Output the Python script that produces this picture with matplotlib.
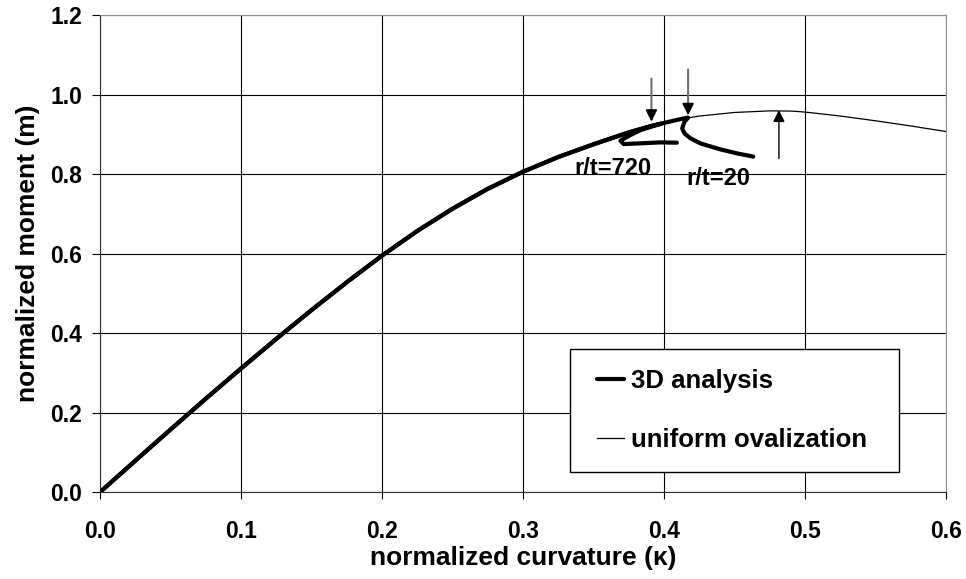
import numpy as np
import matplotlib.pyplot as plt
from matplotlib.legend_handler import HandlerLine2D

plt.rcParams['font.family'] = ['Liberation Sans', 'DejaVu Sans']
plt.rcParams['font.weight'] = 'bold'

# pre-buckling part, shared by all curves
kappa_pre = [0.0, 0.025, 0.05, 0.075, 0.1, 0.125, 0.15, 0.175, 0.2, 0.225, 0.25,
             0.275, 0.3, 0.325, 0.35, 0.375, 0.391, 0.398]
m_pre = [0.0, 0.079, 0.1575, 0.235, 0.311, 0.3855, 0.458, 0.528, 0.595, 0.657, 0.713,
         0.763, 0.806, 0.843, 0.875, 0.905, 0.921, 0.927]

# uniform ovalization (thin line) continues past the limit moment
kappa_uo = kappa_pre + [0.41, 0.425, 0.45, 0.475, 0.49, 0.5, 0.525, 0.55, 0.575, 0.6]
m_uo = m_pre + [0.937, 0.946, 0.955, 0.959, 0.9585, 0.956, 0.946, 0.934, 0.921, 0.907]

# 3D analysis, r/t = 20
kappa_20 = kappa_pre + [0.41, 0.417, 0.4145, 0.4128, 0.4145, 0.4187, 0.4258, 0.44, 0.4518, 0.4632]
m_20 = m_pre + [0.937, 0.942, 0.932, 0.915, 0.902, 0.890, 0.877, 0.862, 0.852, 0.844]

# 3D analysis, r/t = 720
kappa_720 = kappa_pre + [0.3833, 0.376, 0.369, 0.3714, 0.3808, 0.3974, 0.409]
m_720 = m_pre + [0.9107, 0.898, 0.884, 0.8755, 0.877, 0.8797, 0.879]

# arrows: (x, start, tip)
arrows_down = [(0.391, 1.047, 0.932), (0.417, 1.07, 0.948)]
arrow_up = (0.4814, 0.839, 0.961)


class PadLine(HandlerLine2D):
    # legend line drawn a bit further in from the frame
    def create_artists(self, legend, orig_handle, xdescent, ydescent, width, height,
                       fontsize, trans):
        s = 0.27 * fontsize
        return super().create_artists(legend, orig_handle, xdescent - s, ydescent,
                                      width - s, height, fontsize, trans)


fig = plt.figure(figsize=(9.66, 5.79), dpi=100)
ax = fig.add_axes([0.1035, 0.150, 0.876, 0.824])

l_uo, = ax.plot(kappa_uo, m_uo, color='black', lw=0.9, zorder=3)
ax.plot(kappa_720, m_720, color='black', lw=3.0, solid_joinstyle='round',
        solid_capstyle='round', zorder=4)
l_3d, = ax.plot(kappa_20, m_20, color='black', lw=3.0, solid_joinstyle='round',
                solid_capstyle='round', zorder=4)

for x, y0, y1 in arrows_down:
    ax.annotate('', xy=(x, y1 + 0.02), xytext=(x, y0),
                arrowprops=dict(arrowstyle='-', color='#707070', lw=1.5))
    ax.annotate('', xy=(x, y1), xytext=(x, y1 + 0.03),
                arrowprops=dict(arrowstyle='-|>,head_length=0.7,head_width=0.35',
                                color='black', lw=1.2, mutation_scale=10,
                                shrinkA=0, shrinkB=0))
x, y0, y1 = arrow_up
ax.annotate('', xy=(x, y1), xytext=(x, y0),
            arrowprops=dict(arrowstyle='-|>,head_length=0.7,head_width=0.35',
                            color='black', lw=1.0, mutation_scale=10,
                            shrinkA=0, shrinkB=0))

ax.text(0.364, 0.814, 'r/t=720', fontsize=17, fontweight='bold', ha='center', va='center')
ax.text(0.4156, 0.789, 'r/t=20', fontsize=17, fontweight='bold', ha='left', va='center')

ax.set_xlim(0, 0.6)
ax.set_ylim(0, 1.2)
ax.set_xticks(np.arange(0, 0.61, 0.1))
ax.set_yticks(np.arange(0, 1.21, 0.2))
ax.xaxis.set_major_formatter(plt.FormatStrFormatter('%.1f'))
ax.yaxis.set_major_formatter(plt.FormatStrFormatter('%.1f'))
ax.grid(True, color='black', lw=0.8)
ax.set_axisbelow(True)

for s in ['top', 'right']:
    ax.spines[s].set_color('#909090')
for s in ['left', 'bottom']:
    ax.spines[s].set_color('#303030')
ax.tick_params(axis='y', direction='out', length=6, pad=7, labelsize=16.5)
ax.tick_params(axis='x', direction='out', length=5, pad=15, labelsize=16.5)
for lab in ax.get_xticklabels() + ax.get_yticklabels():
    lab.set_fontweight('bold')

ax.set_xlabel('normalized curvature (\u03ba)', fontsize=19, fontweight='bold', labelpad=2)
ax.set_ylabel('normalized moment (m)', fontsize=19, fontweight='bold', labelpad=7)

leg = ax.legend([l_3d, l_uo], ['3D analysis', 'uniform ovalization'],
                handler_map={l_3d: PadLine(), l_uo: PadLine()},
                loc='lower left', bbox_to_anchor=(0.556, 0.042, 0.388, 0.256),
                mode='expand', borderaxespad=0, fontsize=18.5, frameon=True,
                fancybox=False, edgecolor='black', borderpad=0.77, labelspacing=1.37,
                handlelength=1.32, handletextpad=0.25)
leg.get_frame().set_linewidth(1.0)
leg.get_frame().set_alpha(1)

fig.savefig('out.png', dpi=100)
